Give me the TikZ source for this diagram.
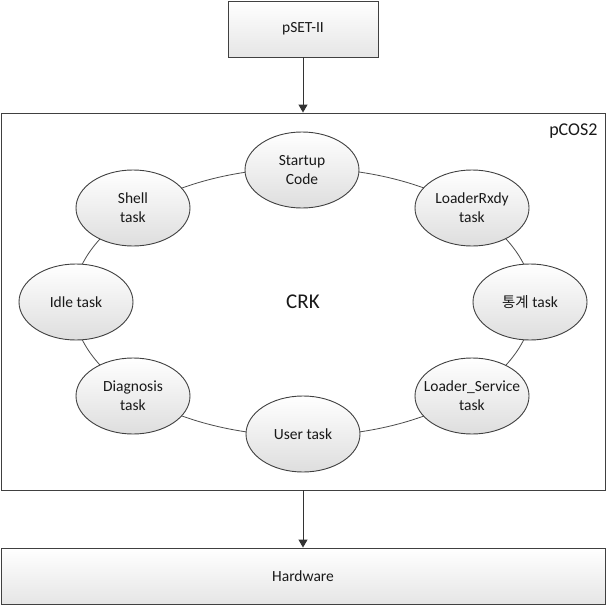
\documentclass[tikz,border=0pt]{standalone}
\usepackage{fontspec}
\setmainfont{Carlito}
\newfontfamily\krfont{Noto Sans CJK KR}
\usetikzlibrary{shapes.geometric, arrows.meta}

\tikzset{
  task/.style={ellipse, draw=black!75, line width=0.9pt, top color=white, bottom color=black!13,
    minimum width=114pt, minimum height=76pt, inner sep=-10pt, align=center,
    text=black!90, font=\fontsize{15.5}{19}\selectfont},
  layer/.style={rectangle, draw=black!75, line width=0.9pt, top color=white, bottom color=black!10,
    inner sep=0pt, text=black!90, font=\fontsize{15.5}{19}\selectfont},
  flow/.style={-{Triangle[length=8pt,width=9pt]}, draw=black!80, line width=1pt},
}

\begin{document}
\begin{tikzpicture}[x=1pt, y=-1pt]
    \useasboundingbox (0,0) rectangle (607,607);

        \node[draw=black!75, line width=0.9pt, fill=white, minimum width=604pt, minimum height=377pt, inner sep=0pt] (pcos) at (303, 301.5) {};
        \node[anchor=east, text=black!90, font=\fontsize{18}{20}\selectfont] (pcoslabel) at (601, 131) {pCOS2};

        \node[layer, minimum width=150pt, minimum height=56pt] (pset) at (303, 29) {pSET-II};
        \node[layer, minimum width=604pt, minimum height=56pt] (hw) at (303, 576) {Hardware};

        % ring behind the tasks
        \node[ellipse, draw=black!70, line width=0.8pt, minimum width=460pt, minimum height=268pt, inner sep=0pt] (ring) at (303, 302) {};
        \node[text=black!90, font=\fontsize{21}{24}\selectfont] (crk) at (303, 302) {CRK};

        \node[task] (startup) at (302, 170) {Startup\\Code};
        \node[task] (rxdy) at (472, 208) {LoaderRxdy\\task};
        \node[task] (stat) at (530, 302) {{\krfont\fontsize{14.5}{19}\selectfont 통계} task};
        \node[task] (service) at (472, 396) {Loader\_Service\\task};
        \node[task] (user) at (303, 434) {User task};
        \node[task] (diag) at (133, 396) {Diagnosis\\task};
        \node[task] (idle) at (76, 302) {Idle task};
        \node[task] (shell) at (133, 208) {Shell\\task};

        \draw[flow] (pset) -- (pcos);
        \draw[flow] (pcos) -- (hw);
    \end{tikzpicture}
\end{document}
